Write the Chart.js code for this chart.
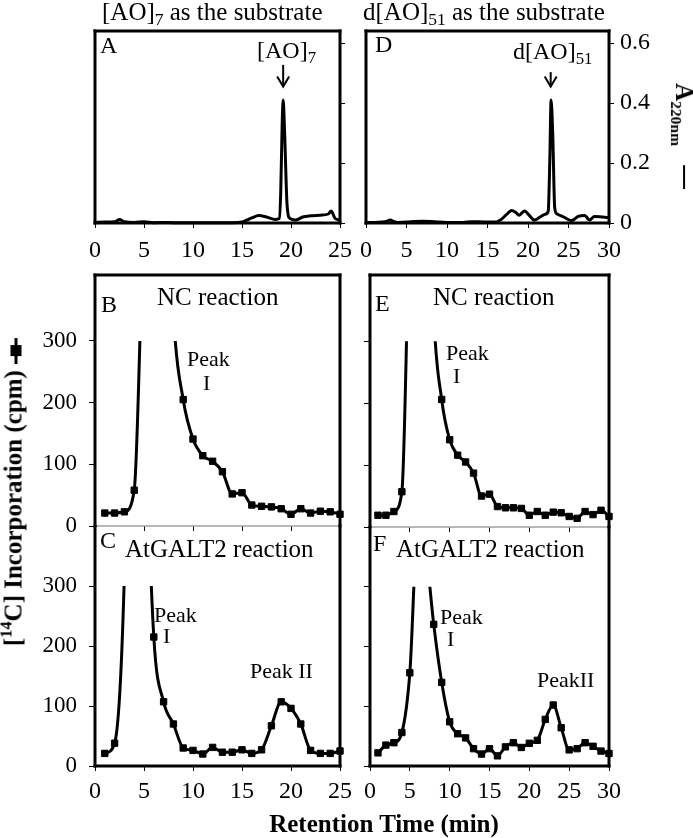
<!DOCTYPE html>
<html>
<head>
<meta charset="utf-8">
<script src="https://cdn.jsdelivr.net/npm/chart.js@4.4.1/dist/chart.umd.min.js"></script>
<style>
  body { margin: 0; background: #fff; }
  #fig { position: relative; width: 693px; height: 838px; overflow: hidden;
         font-family: "Liberation Serif", "Times New Roman", serif; color: #000; }
  #fig canvas { position: absolute; left: 0; top: 0; }
  .t { position: absolute; white-space: nowrap; line-height: 1; }
  .t sub { font-size: 0.7em; vertical-align: -0.3em; line-height: 0; }
  .t sup { font-size: 0.65em; vertical-align: 0.6em; line-height: 0; }
  .mk { display: inline-block; width: 26px; height: 12px; vertical-align: 0;
        background: linear-gradient(#000, #000) center / 11px 11px no-repeat,
                    linear-gradient(#000, #000) center / 100% 3px no-repeat; }
  .ln { display: inline-block; width: 24px; height: 2px; background: #000; vertical-align: 0.3em; }
</style>
</head>
<body>
<div id="fig">
  <canvas id="cA" width="693" height="838"></canvas>
  <canvas id="cD" width="693" height="838"></canvas>
  <canvas id="cB" width="693" height="838"></canvas>
  <canvas id="cE" width="693" height="838"></canvas>
  <canvas id="cC" width="693" height="838"></canvas>
  <canvas id="cF" width="693" height="838"></canvas>
</div>
<script>
// A220 traces (retention time in min, absorbance)
const aTime = [0, 1, 2, 2.5, 3, 4, 5, 6, 7, 8, 10, 12, 14, 15, 15.5, 16, 16.7, 17.5, 18.4, 18.8, 18.95, 19.1, 19.2, 19.35, 19.6, 19.9, 20.5, 21.2, 22, 23, 23.8, 24.1, 24.5, 25];
const aAbs  = [0.002, 0.003, 0.004, 0.012, 0.004, 0.002, 0.004, 0.001, 0.002, 0.001, 0.001, 0.001, 0.001, 0.003, 0.01, 0.017, 0.025, 0.02, 0.012, 0.015, 0.1, 0.33, 0.41, 0.3, 0.06, 0.015, 0.01, 0.02, 0.024, 0.026, 0.03, 0.04, 0.015, 0.01];
const dTime = [0, 1, 2, 2.5, 3, 3.5, 4, 5, 6, 7, 8, 9, 10, 11, 12, 13, 14, 15, 16, 16.6, 17.3, 18, 18.5, 18.9, 19.3, 19.6, 20.1, 20.8, 21.5, 22.2, 22.5, 22.7, 22.85, 23.05, 23.3, 23.6, 24.4, 25.4, 26.2, 27, 27.6, 28.2, 29.2, 30];
const dAbs  = [0.002, 0.002, 0.003, 0.005, 0.01, 0.004, 0.002, 0.003, 0.005, 0.006, 0.005, 0.003, 0.002, 0.002, 0.002, 0.004, 0.004, 0.003, 0.003, 0.01, 0.027, 0.042, 0.035, 0.026, 0.035, 0.04, 0.027, 0.01, 0.02, 0.03, 0.04, 0.22, 0.41, 0.3, 0.05, 0.03, 0.02, 0.008, 0.022, 0.025, 0.01, 0.022, 0.02, 0.018];

// [14C] incorporation (cpm) per fraction
const fracs25 = [1, 2, 3, 4, 5, 6, 7, 8, 9, 10, 11, 12, 13, 14, 15, 16, 17, 18, 19, 20, 21, 22, 23, 24, 25];
const fracs30 = [1, 2, 3, 4, 5, 6, 7, 8, 9, 10, 11, 12, 13, 14, 15, 16, 17, 18, 19, 20, 21, 22, 23, 24, 25, 26, 27, 28, 29, 30];
const ncAO7    = [21, 21, 23, 58, 560, 1200, 800, 345, 205, 141, 114, 105, 88, 52, 54, 34, 32, 31, 28, 19, 28, 21, 24, 23, 19];
const galtAO7  = [21, 38, 320, 1200, 640, 215, 107, 70, 30, 26, 20, 31, 23, 23, 27, 21, 27, 67, 107, 96, 70, 26, 21, 21, 25];
const ncAO51   = [19, 19, 25, 57, 560, 1200, 800, 345, 206, 141, 116, 105, 87, 50, 53, 33, 31, 31, 30, 19, 25, 19, 24, 23, 17, 14, 25, 20, 27, 17];
const galtAO51 = [22, 35, 39, 56, 156, 400, 360, 237, 140, 74, 54, 47, 29, 20, 29, 17, 32, 39, 31, 38, 43, 78, 102, 64, 27, 29, 39, 33, 25, 21];

// tick labels
const xTicks25 = [0, 5, 10, 15, 20, 25];
const xTicks30 = [0, 5, 10, 15, 20, 25, 30];
const absTicks = [0, 0.2, 0.4, 0.6];
const cpmTicks = [0, 100, 200, 300];

const serif = 'Liberation Serif';

function pts(xs, ys) {
  return xs.map((x, i) => ({ x: x, y: ys[i] }));
}

// black box round each panel
const frame = {
  id: 'frame',
  afterDraw(chart, args, o) {
    const { ctx, chartArea: a } = chart;
    const seg = (x1, y1, x2, y2) => { ctx.beginPath(); ctx.moveTo(x1, y1); ctx.lineTo(x2, y2); ctx.stroke(); };
    ctx.save();
    if (o.zero) {
      ctx.strokeStyle = '#a0a0a0'; ctx.lineWidth = 1.5;
      seg(a.left, a.bottom, a.right, a.bottom);
    }
    ctx.strokeStyle = '#000'; ctx.lineWidth = 3; ctx.lineCap = 'square';
    const s = o.sides || '';
    if (s.includes('t')) seg(a.left, a.top, a.right, a.top);
    if (s.includes('b')) seg(a.left, a.bottom, a.right, a.bottom);
    if (s.includes('l')) seg(a.left, a.top, a.left, a.bottom);
    if (s.includes('r')) seg(a.right, a.top, a.right, a.bottom);
    ctx.restore();
  }
};

// off-scale peaks are cut at 300 cpm
const clip300 = {
  id: 'clip300',
  beforeDatasetsDraw(chart, args, o) {
    const { ctx, chartArea: a, scales } = chart;
    const top = o.top != null ? scales.y.getPixelForValue(o.top) : a.top - 10;
    ctx.save();
    ctx.beginPath();
    ctx.rect(a.left - 10, top, a.right - a.left + 20, a.bottom - top + 10);
    ctx.clip();
  },
  afterDatasetsDraw(chart) { chart.ctx.restore(); }
};

// arrow pointing at the substrate peak
const arrow = {
  id: 'arrow',
  afterDatasetsDraw(chart, args, o) {
    if (o.at == null) return;
    const { ctx, scales } = chart;
    const x = scales.x.getPixelForValue(o.at);
    const y1 = scales.y.getPixelForValue(o.from), y2 = scales.y.getPixelForValue(o.to);
    ctx.save();
    ctx.strokeStyle = '#000'; ctx.lineWidth = 2;
    ctx.beginPath(); ctx.moveTo(x, y1); ctx.lineTo(x, y2); ctx.stroke();
    ctx.beginPath(); ctx.moveTo(x - 6, y2 - 10); ctx.lineTo(x, y2); ctx.lineTo(x + 6, y2 - 10); ctx.stroke();
    ctx.restore();
  }
};

function makePanel(p) {
  const b = p.box;
  const leftW = p.ySide === 'left' ? p.yW : 0;
  const rightW = p.ySide === 'right' ? p.yW : 0;
  return new Chart(document.getElementById(p.id), {
    type: 'line',
    data: {
      datasets: [{
        data: pts(p.xs, p.ys),
        borderColor: '#000',
        borderWidth: 3,
        pointRadius: p.trace ? 0 : 4.5,
        pointStyle: 'rect',
        pointBackgroundColor: '#000',
        pointBorderColor: '#000',
        pointBorderWidth: 1,
        cubicInterpolationMode: 'monotone',
        clip: false
      }]
    },
    options: {
      responsive: false,
      animation: false,
      events: [],
      layout: { padding: { left: b.l - leftW, right: 693 - b.r - rightW, top: b.t, bottom: 838 - b.b - p.xH } },
      scales: {
        x: {
          type: 'linear', min: 0, max: p.xTicks[p.xTicks.length - 1], position: 'bottom',
          afterBuildTicks: s => { s.ticks = p.xTicks.map(v => ({ value: v })); },
          afterFit: s => { s.height = p.xH; },
          grid: { drawOnChartArea: false, tickLength: 5, color: '#000', lineWidth: 1 },
          border: { display: false },
          ticks: { display: p.xLabels, padding: p.xPad || 0, color: '#000', maxRotation: 0,
                   font: { family: serif, size: 24 } }
        },
        y: {
          type: 'linear', min: 0, max: p.yMax, position: p.ySide,
          afterBuildTicks: s => { s.ticks = p.yTicks.map(v => ({ value: v })); },
          afterFit: s => { s.width = p.yW; },
          grid: { drawOnChartArea: false, tickLength: p.yTick, color: '#000', lineWidth: 1 },
          border: { display: false },
          ticks: { display: p.yLabels, padding: p.yPad || 0, color: '#000',
                   callback: v => String(v), font: { family: serif, size: p.yFont || 23 } }
        }
      },
      plugins: {
        legend: { display: false },
        tooltip: { enabled: false },
        frame: { sides: p.sides, zero: p.zero },
        clip300: { top: p.clipTop },
        arrow: p.arrow || {}
      }
    },
    plugins: [frame, clip300, arrow]
  });
}

// A: [AO]7 absorbance
makePanel({ id: 'cA', box: { l: 95, t: 31, r: 340, b: 223 }, xs: aTime, ys: aAbs, trace: true,
  xTicks: xTicks25, xLabels: true, xH: 45, xPad: 8,
  yMax: 0.64, yTicks: absTicks, ySide: 'right', yW: 6, yTick: 5, yLabels: false,
  sides: 'tblr', arrow: { at: 19.2, from: 0.527, to: 0.455 } });
// D: d[AO]51 absorbance
makePanel({ id: 'cD', box: { l: 366, t: 31, r: 609, b: 223 }, xs: dTime, ys: dAbs, trace: true,
  xTicks: xTicks30, xLabels: true, xH: 45, xPad: 8,
  yMax: 0.64, yTicks: absTicks, ySide: 'right', yW: 50, yTick: 5, yLabels: true, yPad: 6, yFont: 24,
  sides: 'tblr', arrow: { at: 22.8, from: 0.503, to: 0.455 } });
// B: NC reaction, [AO]7
makePanel({ id: 'cB', box: { l: 95, t: 275, r: 340, b: 526 }, xs: fracs25, ys: ncAO7,
  xTicks: xTicks25, xLabels: false, xH: 6,
  yMax: 407, yTicks: cpmTicks, ySide: 'left', yW: 60, yTick: 6, yLabels: true, yPad: 12,
  sides: 'tlr', zero: true, clipTop: 300 });
// C: AtGALT2 reaction, [AO]7
makePanel({ id: 'cC', box: { l: 95, t: 526, r: 340, b: 766 }, xs: fracs25, ys: galtAO7,
  xTicks: xTicks25, xLabels: true, xH: 40, xPad: 6,
  yMax: 400, yTicks: cpmTicks, ySide: 'left', yW: 60, yTick: 6, yLabels: true, yPad: 12,
  sides: 'blr', clipTop: 300 });
// E: NC reaction, d[AO]51
makePanel({ id: 'cE', box: { l: 370, t: 275, r: 609, b: 527 }, xs: fracs30, ys: ncAO51,
  xTicks: xTicks30, xLabels: false, xH: 6,
  yMax: 407, yTicks: cpmTicks, ySide: 'left', yW: 6, yTick: 6, yLabels: false,
  sides: 'tlr', zero: true, clipTop: 300 });
// F: AtGALT2 reaction, d[AO]51
makePanel({ id: 'cF', box: { l: 370, t: 527, r: 609, b: 766 }, xs: fracs30, ys: galtAO51,
  xTicks: xTicks30, xLabels: true, xH: 40, xPad: 6,
  yMax: 400, yTicks: cpmTicks, ySide: 'left', yW: 6, yTick: 6, yLabels: false,
  sides: 'blr', clipTop: 300 });

// text
const fig = document.getElementById('fig');
function put(html, x, base, size, style) {
  const d = document.createElement('div');
  d.className = 't';
  d.innerHTML = html;
  d.style.left = x + 'px';
  d.style.top = (base - 0.837 * size) + 'px';
  d.style.fontSize = size + 'px';
  if (style) Object.assign(d.style, style);
  fig.appendChild(d);
  return d;
}

put('[AO]<sub>7</sub> as the substrate', 102, 20, 25);
put('d[AO]<sub>51</sub> as the substrate', 363, 20, 25);
put('A', 100, 53, 24);
put('D', 375, 52, 24);
put('[AO]<sub>7</sub>', 257, 58, 24);
put('d[AO]<sub>51</sub>', 513, 59, 24);

put('B', 101, 312, 24);
put('NC reaction', 157, 305, 25);
put('E', 375, 311, 24);
put('NC reaction', 433, 305, 25);
put('Peak', 187, 366, 22);
put('I', 203, 390, 22);
put('Peak', 446, 360, 22);
put('I', 453, 383, 22);

put('C', 100, 548, 24);
put('AtGALT2 reaction', 125, 557, 25);
put('F', 373, 551, 24);
put('AtGALT2 reaction', 396, 557, 25);
put('Peak', 154, 622, 22);
put('I', 163, 643, 22);
put('Peak II', 250, 678, 22);
put('Peak', 440, 624, 22);
put('I', 447, 646, 22);
put('PeakII', 537, 687, 22);

put('Retention Time (min)', 384, 832, 25, { fontWeight: 'bold', transform: 'translateX(-50%)' });

// rotated axis titles
put('[<sup>14</sup>C] Incorporation (cpm) <span class="mk"></span>', 12.6, 0, 25,
  { fontWeight: 'bold', top: '492px', transform: 'translate(-50%, -50%) rotate(-90deg)' });
put('<b>A</b><b style="font-size:0.62em;vertical-align:-0.3em">220nm</b>&nbsp;&nbsp;&nbsp;<span class="ln"></span>', 683, 0, 25,
  { top: '136px', transform: 'translate(-50%, -50%) rotate(90deg)' });
</script>
</body>
</html>
